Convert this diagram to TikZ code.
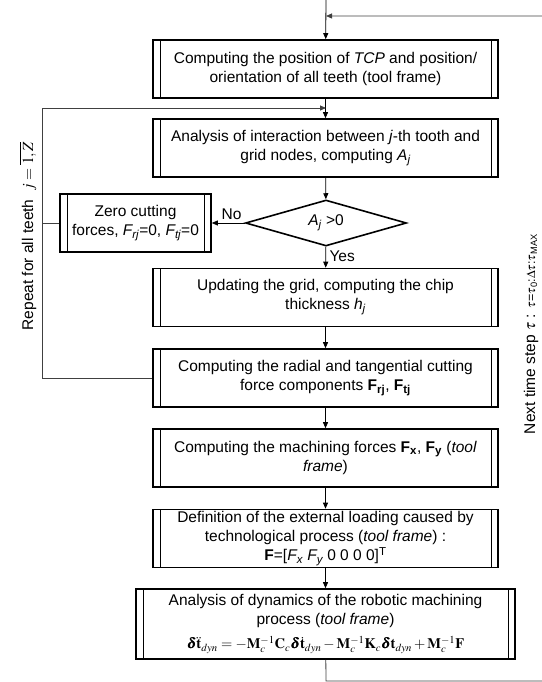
\documentclass[tikz,border=0pt]{standalone}
\usepackage{amsmath}
\usepackage{mathptmx}
\usepackage{bm}
\usepackage[no-math]{fontspec}
\setmainfont{Liberation Sans}
\usetikzlibrary{shapes.geometric,arrows.meta}

\begin{document}
\begin{tikzpicture}[x = 1pt, y = -1pt, line width = 0.8pt,
                        every node/.style = {font = \fontsize{15.5}{19}\selectfont},
                        proc/.style = {draw, line width = 1.6pt, minimum width = 345pt, minimum height = 58pt,
                                       inner sep = 2pt, align = center,
                                       path picture = {\draw [line width = 0.8pt]
                                         ([xshift = 7pt]path picture bounding box.north west) --
                                         ([xshift = 7pt]path picture bounding box.south west)
                                         ([xshift = -7pt]path picture bounding box.north east) --
                                         ([xshift = -7pt]path picture bounding box.south east);}},
                        cond/.style = {diamond, draw, line width = 1.6pt, inner sep = 0pt, aspect = 3.5,
                                       minimum width = 161pt, minimum height = 46pt},
                        arr/.style = {-{Triangle[length = 6pt, width = 5pt]}},
                        loop/.style = {draw = black!75}]
      \useasboundingbox (0, 0) rectangle (541, 682);
      \node [proc] (s1) at (325.5, 69){Computing the position of \textit{TCP} and position/\\orientation of all teeth (tool frame)};
      \node [proc] (s2) at (325.5, 148){Analysis of interaction between \textit{j}-th tooth and\\grid nodes, computing \textit{A\textsubscript{j}}};
      \node [cond] (c1) at (326, 223){\textit{A\textsubscript{j}} >0};
      \node [proc, minimum width = 151pt] (z1) at (135.5, 223){Zero cutting\\forces, \textit{F\textsubscript{rj}}=0, \textit{F\textsubscript{tj}}=0};
      \node [proc] (s3) at (325.5, 297.5){Updating the grid, computing the chip\\thickness \textit{h\textsubscript{j}}};
      \node [proc] (s4) at (325.5, 378){Computing the radial and tangential cutting\\force components \textbf{F\textsubscript{rj}}, \textbf{F\textsubscript{tj}}};
      \node [proc] (s5) at (325.5, 458){Computing the machining forces \textbf{F\textsubscript{x}}, \textbf{F\textsubscript{y}} (\textit{tool}\\\textit{frame})};
      \node [proc] (s6) at (325.5, 538.5){Definition of the external loading caused by\\technological process (\textit{tool frame}) :\\\textbf{F}=[\textit{F\textsubscript{x} F\textsubscript{y}} 0 0 0 0]\textsuperscript{T}};
      \node [proc, minimum width = 379pt, minimum height = 70pt, inner sep = 1pt] (s7) at (325.5, 624){Analysis of dynamics of the robotic machining\\process (\textit{tool frame})\\[5pt]
        {\fontsize{14.5}{16}\selectfont$\bm{\delta}\ddot{\mathbf{t}}_{dyn}=-\mathbf{M}_c^{-1}\mathbf{C}_c\bm{\delta}\dot{\mathbf{t}}_{dyn}-\mathbf{M}_c^{-1}\mathbf{K}_c\bm{\delta}\mathbf{t}_{dyn}+\mathbf{M}_c^{-1}\mathbf{F}$}};
      \node [rotate = 90] (rep) at (28, 236){Repeat for all teeth \ $j=\overline{1,Z}$};
      \node [rotate = 90] (tim) at (531, 334){Next time step $\tau$ : {\fontsize{12.5}{15}\selectfont$\tau$=$\tau$\textsubscript{0}:$\Delta\tau$:$\tau$\textsubscript{MAX}}};
      \coordinate (top) at (326, -2);
      \coordinate (t1) at (326, 16);
      \coordinate (t2) at (545, 16);
      \coordinate (b1) at (326, 681);
      \coordinate (b2) at (545, 681);
      \coordinate (l1) at (42, 108);
      \coordinate (l2) at (326, 108);
      \coordinate (l3) at (42, 378);
      % main chain
      \draw [arr] (top) -- (s1);
      \draw [arr] (s1) -- (s2);
      \draw [arr] (s2) -- (c1);
      \draw [arr] (c1) -- node [right, pos = 0.45]{Yes} (s3);
      \draw [arr] (c1) -- node [above, pos = 0.4]{No} (z1);
      \draw [arr] (s3) -- (s4);
      \draw [arr] (s4) -- (s5);
      \draw [arr] (s5) -- (s6);
      \draw [arr] (s6) -- (s7);
      % loops
      \draw [loop, arr] (s7) -- (b1) -- (b2) -- (t2) -- (t1);
      \draw [loop, arr] (s4) -- (l3) -- (l1) -- (l2);
      \draw [loop] (z1) -- (z1 -| l1);
    \end{tikzpicture}
\end{document}
